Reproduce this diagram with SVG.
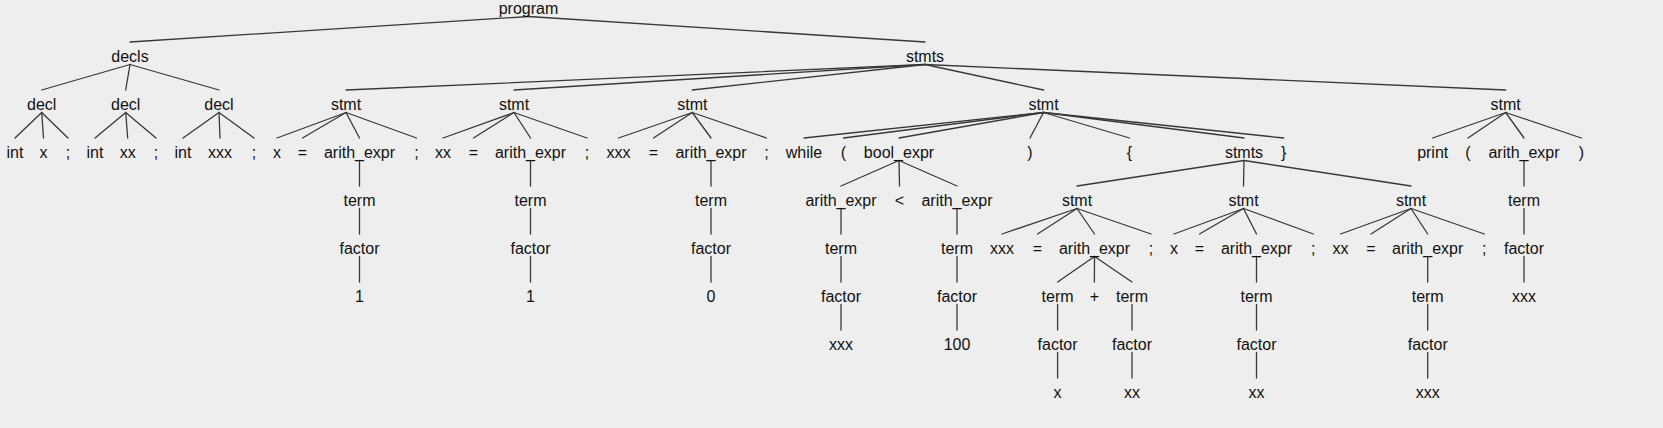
<svg xmlns="http://www.w3.org/2000/svg" width="1663" height="428" viewBox="0 0 1663 428">
<style>
text{font-family:"Liberation Sans",Arial,sans-serif;font-size:16px;fill:#111;text-anchor:middle}
#edges line{stroke:#383838;stroke-width:1.3;stroke-linecap:round}
</style>
<rect width="1663" height="428" fill="#eeeeee"/>
<g id="edges">
<line x1="528.5" y1="16.5" x2="130" y2="42"/>
<line x1="528.5" y1="16.5" x2="925" y2="42"/>
<line x1="130" y1="64.5" x2="41.7" y2="90"/>
<line x1="130" y1="64.5" x2="125.7" y2="90"/>
<line x1="130" y1="64.5" x2="219" y2="90"/>
<line x1="925" y1="64.5" x2="346" y2="90"/>
<line x1="925" y1="64.5" x2="514" y2="90"/>
<line x1="925" y1="64.5" x2="692.3" y2="90"/>
<line x1="925" y1="64.5" x2="1043.5" y2="90"/>
<line x1="925" y1="64.5" x2="1505.7" y2="90"/>
<line x1="41.7" y1="112.5" x2="15" y2="138"/>
<line x1="41.7" y1="112.5" x2="43.5" y2="138"/>
<line x1="41.7" y1="112.5" x2="68" y2="138"/>
<line x1="125.7" y1="112.5" x2="95" y2="138"/>
<line x1="125.7" y1="112.5" x2="127.7" y2="138"/>
<line x1="125.7" y1="112.5" x2="156" y2="138"/>
<line x1="219" y1="112.5" x2="183" y2="138"/>
<line x1="219" y1="112.5" x2="220" y2="138"/>
<line x1="219" y1="112.5" x2="254" y2="138"/>
<line x1="346" y1="112.5" x2="277" y2="138"/>
<line x1="346" y1="112.5" x2="302.5" y2="138"/>
<line x1="346" y1="112.5" x2="359.5" y2="138"/>
<line x1="346" y1="112.5" x2="416.5" y2="138"/>
<line x1="514" y1="112.5" x2="443" y2="138"/>
<line x1="514" y1="112.5" x2="473.5" y2="138"/>
<line x1="514" y1="112.5" x2="530.5" y2="138"/>
<line x1="514" y1="112.5" x2="587" y2="138"/>
<line x1="692.3" y1="112.5" x2="618.5" y2="138"/>
<line x1="692.3" y1="112.5" x2="653.5" y2="138"/>
<line x1="692.3" y1="112.5" x2="711" y2="138"/>
<line x1="692.3" y1="112.5" x2="766.5" y2="138"/>
<line x1="1043.5" y1="112.5" x2="804" y2="138"/>
<line x1="1043.5" y1="112.5" x2="843.5" y2="138"/>
<line x1="1043.5" y1="112.5" x2="899" y2="138"/>
<line x1="1043.5" y1="112.5" x2="1030" y2="138"/>
<line x1="1043.5" y1="112.5" x2="1129.5" y2="138"/>
<line x1="1043.5" y1="112.5" x2="1244" y2="138"/>
<line x1="1043.5" y1="112.5" x2="1283.7" y2="138"/>
<line x1="1505.7" y1="112.5" x2="1432.7" y2="138"/>
<line x1="1505.7" y1="112.5" x2="1468" y2="138"/>
<line x1="1505.7" y1="112.5" x2="1524" y2="138"/>
<line x1="1505.7" y1="112.5" x2="1581.3" y2="138"/>
<line x1="359.5" y1="160.5" x2="359.5" y2="186"/>
<line x1="530.5" y1="160.5" x2="530.5" y2="186"/>
<line x1="711" y1="160.5" x2="711" y2="186"/>
<line x1="899" y1="160.5" x2="841" y2="186"/>
<line x1="899" y1="160.5" x2="899.5" y2="186"/>
<line x1="899" y1="160.5" x2="957" y2="186"/>
<line x1="1244" y1="160.5" x2="1077" y2="186"/>
<line x1="1244" y1="160.5" x2="1243.5" y2="186"/>
<line x1="1244" y1="160.5" x2="1411" y2="186"/>
<line x1="1524" y1="160.5" x2="1524" y2="186"/>
<line x1="359.5" y1="208.5" x2="359.5" y2="234"/>
<line x1="530.5" y1="208.5" x2="530.5" y2="234"/>
<line x1="711" y1="208.5" x2="711" y2="234"/>
<line x1="841" y1="208.5" x2="841" y2="234"/>
<line x1="957" y1="208.5" x2="957" y2="234"/>
<line x1="1077" y1="208.5" x2="1002" y2="234"/>
<line x1="1077" y1="208.5" x2="1037.5" y2="234"/>
<line x1="1077" y1="208.5" x2="1094.5" y2="234"/>
<line x1="1077" y1="208.5" x2="1151" y2="234"/>
<line x1="1243.5" y1="208.5" x2="1174" y2="234"/>
<line x1="1243.5" y1="208.5" x2="1199.5" y2="234"/>
<line x1="1243.5" y1="208.5" x2="1256.5" y2="234"/>
<line x1="1243.5" y1="208.5" x2="1313.3" y2="234"/>
<line x1="1411" y1="208.5" x2="1340.5" y2="234"/>
<line x1="1411" y1="208.5" x2="1371" y2="234"/>
<line x1="1411" y1="208.5" x2="1427.7" y2="234"/>
<line x1="1411" y1="208.5" x2="1484.3" y2="234"/>
<line x1="1524" y1="208.5" x2="1524" y2="234"/>
<line x1="359.5" y1="256.5" x2="359.5" y2="282"/>
<line x1="530.5" y1="256.5" x2="530.5" y2="282"/>
<line x1="711" y1="256.5" x2="711" y2="282"/>
<line x1="841" y1="256.5" x2="841" y2="282"/>
<line x1="957" y1="256.5" x2="957" y2="282"/>
<line x1="1094.5" y1="256.5" x2="1057.6" y2="282"/>
<line x1="1094.5" y1="256.5" x2="1094.4" y2="282"/>
<line x1="1094.5" y1="256.5" x2="1132" y2="282"/>
<line x1="1256.5" y1="256.5" x2="1256.5" y2="282"/>
<line x1="1427.7" y1="256.5" x2="1427.7" y2="282"/>
<line x1="1524" y1="256.5" x2="1524" y2="282"/>
<line x1="841" y1="304.5" x2="841" y2="330"/>
<line x1="957" y1="304.5" x2="957" y2="330"/>
<line x1="1057.6" y1="304.5" x2="1057.6" y2="330"/>
<line x1="1132" y1="304.5" x2="1132" y2="330"/>
<line x1="1256.5" y1="304.5" x2="1256.5" y2="330"/>
<line x1="1427.7" y1="304.5" x2="1427.7" y2="330"/>
<line x1="1057.6" y1="352.5" x2="1057.6" y2="378"/>
<line x1="1132" y1="352.5" x2="1132" y2="378"/>
<line x1="1256.5" y1="352.5" x2="1256.5" y2="378"/>
<line x1="1427.7" y1="352.5" x2="1427.7" y2="378"/>
</g>
<g id="n0"><text x="528.5" y="14">program</text></g>
<g id="n1"><text x="130" y="62">decls</text></g>
<g id="n2"><text x="925" y="62">stmts</text></g>
<g id="n3"><text x="41.7" y="110">decl</text></g>
<g id="n4"><text x="125.7" y="110">decl</text></g>
<g id="n5"><text x="219" y="110">decl</text></g>
<g id="n6"><text x="346" y="110">stmt</text></g>
<g id="n7"><text x="514" y="110">stmt</text></g>
<g id="n8"><text x="692.3" y="110">stmt</text></g>
<g id="n9"><text x="1043.5" y="110">stmt</text></g>
<g id="n10"><text x="1505.7" y="110">stmt</text></g>
<g id="n11"><text x="15" y="158">int</text></g>
<g id="n12"><text x="43.5" y="158">x</text></g>
<g id="n13"><text x="68" y="158">;</text></g>
<g id="n14"><text x="95" y="158">int</text></g>
<g id="n15"><text x="127.7" y="158">xx</text></g>
<g id="n16"><text x="156" y="158">;</text></g>
<g id="n17"><text x="183" y="158">int</text></g>
<g id="n18"><text x="220" y="158">xxx</text></g>
<g id="n19"><text x="254" y="158">;</text></g>
<g id="n20"><text x="277" y="158">x</text></g>
<g id="n21"><text x="302.5" y="158">=</text></g>
<g id="n22"><text x="359.5" y="158">arith_expr</text></g>
<g id="n23"><text x="416.5" y="158">;</text></g>
<g id="n24"><text x="443" y="158">xx</text></g>
<g id="n25"><text x="473.5" y="158">=</text></g>
<g id="n26"><text x="530.5" y="158">arith_expr</text></g>
<g id="n27"><text x="587" y="158">;</text></g>
<g id="n28"><text x="618.5" y="158">xxx</text></g>
<g id="n29"><text x="653.5" y="158">=</text></g>
<g id="n30"><text x="711" y="158">arith_expr</text></g>
<g id="n31"><text x="766.5" y="158">;</text></g>
<g id="n32"><text x="804" y="158">while</text></g>
<g id="n33"><text x="843.5" y="158">(</text></g>
<g id="n34"><text x="899" y="158">bool_expr</text></g>
<g id="n35"><text x="1030" y="158">)</text></g>
<g id="n36"><text x="1129.5" y="158">{</text></g>
<g id="n37"><text x="1244" y="158">stmts</text></g>
<g id="n38"><text x="1283.7" y="158">}</text></g>
<g id="n39"><text x="1432.7" y="158">print</text></g>
<g id="n40"><text x="1468" y="158">(</text></g>
<g id="n41"><text x="1524" y="158">arith_expr</text></g>
<g id="n42"><text x="1581.3" y="158">)</text></g>
<g id="n43"><text x="359.5" y="206">term</text></g>
<g id="n44"><text x="530.5" y="206">term</text></g>
<g id="n45"><text x="711" y="206">term</text></g>
<g id="n46"><text x="841" y="206">arith_expr</text></g>
<g id="n47"><text x="899.5" y="206">&lt;</text></g>
<g id="n48"><text x="957" y="206">arith_expr</text></g>
<g id="n49"><text x="1077" y="206">stmt</text></g>
<g id="n50"><text x="1243.5" y="206">stmt</text></g>
<g id="n51"><text x="1411" y="206">stmt</text></g>
<g id="n52"><text x="1524" y="206">term</text></g>
<g id="n53"><text x="359.5" y="254">factor</text></g>
<g id="n54"><text x="530.5" y="254">factor</text></g>
<g id="n55"><text x="711" y="254">factor</text></g>
<g id="n56"><text x="841" y="254">term</text></g>
<g id="n57"><text x="957" y="254">term</text></g>
<g id="n58"><text x="1002" y="254">xxx</text></g>
<g id="n59"><text x="1037.5" y="254">=</text></g>
<g id="n60"><text x="1094.5" y="254">arith_expr</text></g>
<g id="n61"><text x="1151" y="254">;</text></g>
<g id="n62"><text x="1174" y="254">x</text></g>
<g id="n63"><text x="1199.5" y="254">=</text></g>
<g id="n64"><text x="1256.5" y="254">arith_expr</text></g>
<g id="n65"><text x="1313.3" y="254">;</text></g>
<g id="n66"><text x="1340.5" y="254">xx</text></g>
<g id="n67"><text x="1371" y="254">=</text></g>
<g id="n68"><text x="1427.7" y="254">arith_expr</text></g>
<g id="n69"><text x="1484.3" y="254">;</text></g>
<g id="n70"><text x="1524" y="254">factor</text></g>
<g id="n71"><text x="359.5" y="302">1</text></g>
<g id="n72"><text x="530.5" y="302">1</text></g>
<g id="n73"><text x="711" y="302">0</text></g>
<g id="n74"><text x="841" y="302">factor</text></g>
<g id="n75"><text x="957" y="302">factor</text></g>
<g id="n76"><text x="1057.6" y="302">term</text></g>
<g id="n77"><text x="1094.4" y="302">+</text></g>
<g id="n78"><text x="1132" y="302">term</text></g>
<g id="n79"><text x="1256.5" y="302">term</text></g>
<g id="n80"><text x="1427.7" y="302">term</text></g>
<g id="n81"><text x="1524" y="302">xxx</text></g>
<g id="n82"><text x="841" y="350">xxx</text></g>
<g id="n83"><text x="957" y="350">100</text></g>
<g id="n84"><text x="1057.6" y="350">factor</text></g>
<g id="n85"><text x="1132" y="350">factor</text></g>
<g id="n86"><text x="1256.5" y="350">factor</text></g>
<g id="n87"><text x="1427.7" y="350">factor</text></g>
<g id="n88"><text x="1057.6" y="398">x</text></g>
<g id="n89"><text x="1132" y="398">xx</text></g>
<g id="n90"><text x="1256.5" y="398">xx</text></g>
<g id="n91"><text x="1427.7" y="398">xxx</text></g>
</svg>
